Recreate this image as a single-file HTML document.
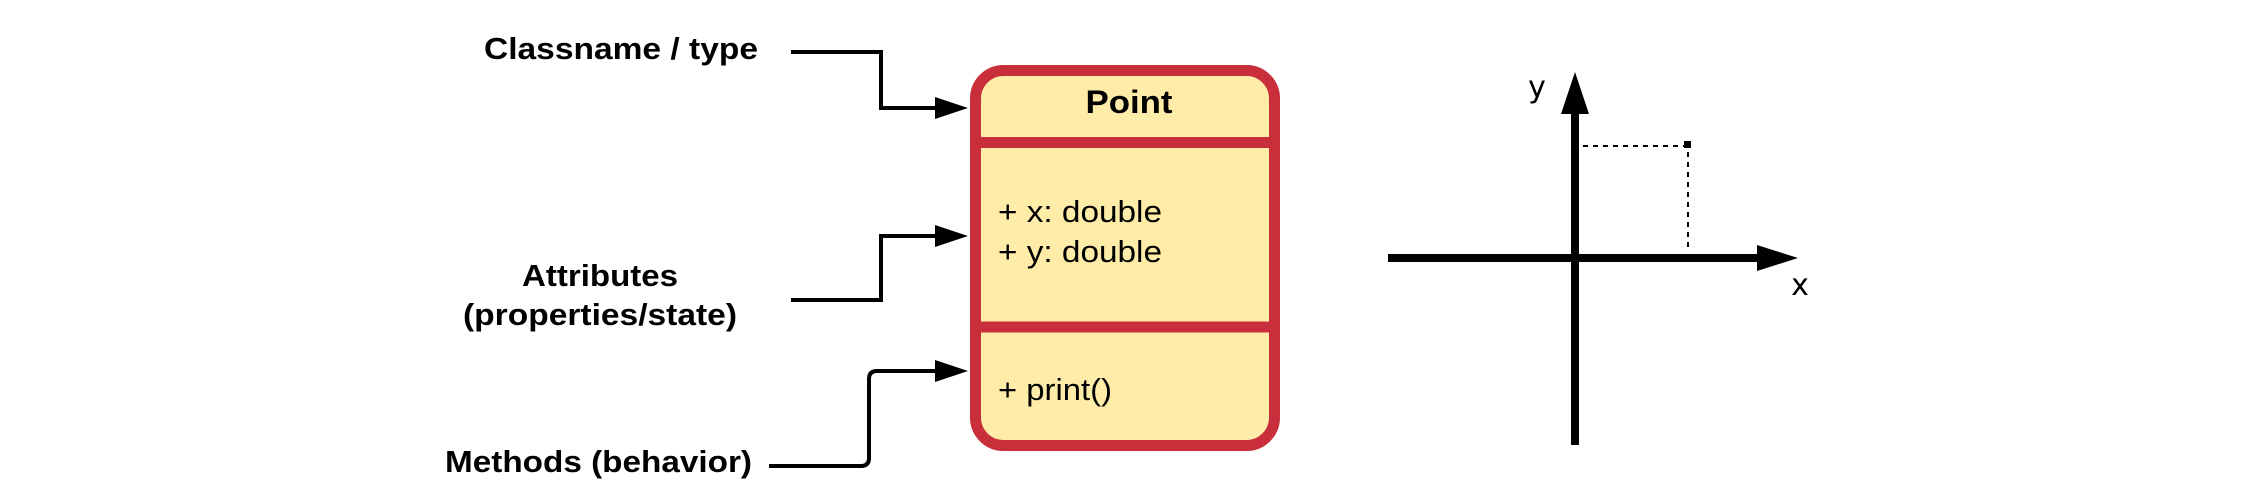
<!DOCTYPE html>
<html><head><meta charset="utf-8"><style>
html,body{margin:0;padding:0;background:#fff;}
svg{display:block;}
text{font-family:"Liberation Sans",sans-serif;}
</style></head><body>
<svg width="2241" height="501" viewBox="0 0 2241 501">
<!-- labels -->
<text x="484" y="59" font-size="31" font-weight="bold" textLength="274" lengthAdjust="spacingAndGlyphs">Classname / type</text>
<text x="522" y="286" font-size="31" font-weight="bold" textLength="156" lengthAdjust="spacingAndGlyphs">Attributes</text>
<text x="463" y="325" font-size="31" font-weight="bold" textLength="274" lengthAdjust="spacingAndGlyphs">(properties/state)</text>
<text x="445" y="472" font-size="31" font-weight="bold" textLength="307" lengthAdjust="spacingAndGlyphs">Methods (behavior)</text>
<!-- connectors -->
<g fill="none" stroke="#000" stroke-width="4">
<path d="M791 52 H881 V108 H937"/>
<path d="M791 300 H881 V236 H937"/>
<path d="M769 466 H861 Q869 466 869 458 V379 Q869 371 877 371 H937"/>
</g>
<g fill="#000">
<polygon points="935,97 968,108 935,119"/>
<polygon points="935,225 968,236 935,247"/>
<polygon points="935,360 968,371 935,382"/>
</g>
<!-- class box -->
<rect x="975.5" y="70.5" width="299" height="375" rx="28" fill="#FFECA8" stroke="#C92E3B" stroke-width="11"/>
<line x1="976" y1="142.5" x2="1275" y2="142.5" stroke="#C92E3B" stroke-width="11"/>
<line x1="976" y1="327" x2="1275" y2="327" stroke="#C92E3B" stroke-width="11"/>
<text x="1129" y="113" font-size="32" font-weight="bold" text-anchor="middle" textLength="87" lengthAdjust="spacingAndGlyphs">Point</text>
<text x="998" y="222" font-size="31" textLength="164" lengthAdjust="spacingAndGlyphs">+ x: double</text>
<text x="998" y="262" font-size="31" textLength="164" lengthAdjust="spacingAndGlyphs">+ y: double</text>
<text x="998" y="400" font-size="31" textLength="114" lengthAdjust="spacingAndGlyphs">+ print()</text>
<!-- axes -->
<line x1="1575" y1="110" x2="1575" y2="445" stroke="#000" stroke-width="8"/>
<polygon points="1561,114 1575,72 1589,114" fill="#000"/>
<line x1="1388" y1="258" x2="1760" y2="258" stroke="#000" stroke-width="8"/>
<polygon points="1757,245 1798,258 1757,271" fill="#000"/>
<line x1="1583" y1="146" x2="1684" y2="146" stroke="#000" stroke-width="2" stroke-dasharray="5,5"/>
<line x1="1688" y1="152" x2="1688" y2="249" stroke="#000" stroke-width="2" stroke-dasharray="5,5"/>
<rect x="1684" y="141" width="7" height="7" fill="#000"/>
<text x="1537" y="97" font-size="30" text-anchor="middle" style="font-family:'DejaVu Sans',sans-serif">y</text>
<text x="1800" y="295" font-size="30" text-anchor="middle" style="font-family:'DejaVu Sans',sans-serif">x</text>
</svg>
</body></html>
